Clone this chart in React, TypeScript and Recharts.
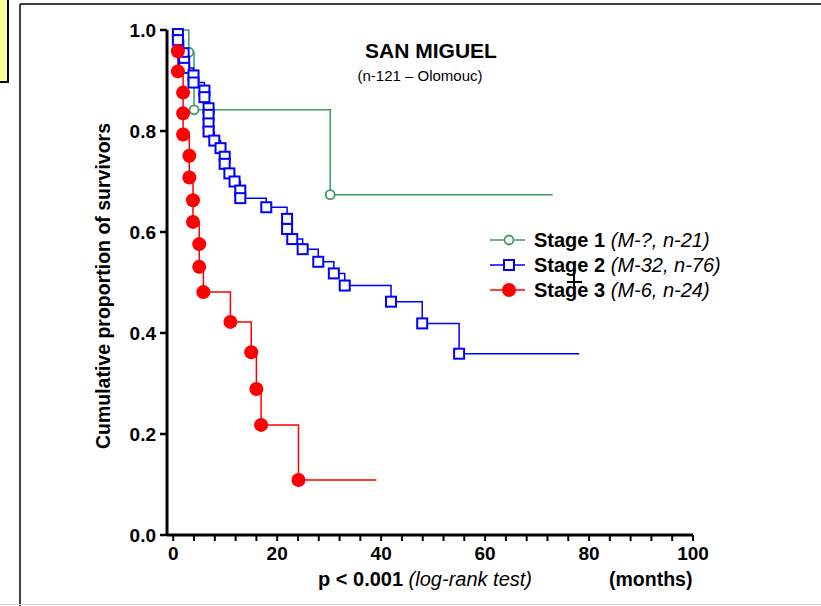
import React from "react";
import { LineChart, Line, XAxis, YAxis } from "recharts";

// Kaplan-Meier events (months, survival after the event)
const stage1Times = [3.0, 4.0, 30.2];
const stage1Surv = [0.956, 0.842, 0.674];
const stage1End = 73;

const stage2Times = [
  0.9, 0.9, 2.0, 2.1, 2.1, 3.9, 3.9, 6.0, 6.0, 6.8, 6.8, 6.8, 6.8, 7.9, 9.1, 9.9,
  9.9, 10.8, 11.8, 12.9, 12.9, 17.9, 21.9, 21.9, 22.9, 24.9, 27.9, 30.9, 33.0,
  41.9, 47.9, 55.0,
];
const stage2Surv = [
  0.992, 0.98, 0.954, 0.937, 0.925, 0.91, 0.896, 0.88, 0.867, 0.845, 0.832,
  0.815, 0.799, 0.781, 0.766, 0.749, 0.735, 0.716, 0.7, 0.682, 0.667, 0.649,
  0.626, 0.606, 0.586, 0.566, 0.541, 0.518, 0.494, 0.462, 0.419, 0.359,
];
const stage2End = 78.1;

const stage3Times = [
  0.9, 0.9, 1.9, 1.9, 1.9, 3.1, 3.1, 3.8, 3.8, 5.0, 5.0, 5.8, 11.0, 15.0, 16.0,
  16.9, 24.1,
];
const stage3Surv = [
  0.958, 0.918, 0.876, 0.835, 0.793, 0.751, 0.708, 0.663, 0.62, 0.576, 0.531,
  0.481, 0.422, 0.362, 0.289, 0.218, 0.109,
];
const stage3End = 39.1;

const xTicks = [
  0, 4, 8, 12, 16, 20, 24, 28, 32, 36, 40, 44, 48, 52, 56, 60, 64, 68, 72, 76,
  80, 84, 88, 92, 96, 100,
];
const yTicks = [0, 0.2, 0.4, 0.6, 0.8, 1.0];

const legendItems = [
  { name: "Stage 1", note: "(M-?, n-21)" },
  { name: "Stage 2", note: "(M-32, n-76)" },
  { name: "Stage 3", note: "(M-6, n-24)" },
];

const GREEN = "#3a9a62";
const BLUE = "#0000ff";
const RED = "#ff0000";
const FONT = "'Liberation Sans', Arial, sans-serif";

// start at 1.0, one point per event, then a last point where follow-up ends
function buildSeries(times: number[], surv: number[], end: number) {
  const pts = [{ t: 0, s: 1, mark: false }];
  times.forEach((t, i) => pts.push({ t, s: surv[i], mark: true }));
  pts.push({ t: end, s: surv[surv.length - 1], mark: false });
  return pts;
}

const stage1 = buildSeries(stage1Times, stage1Surv, stage1End);
const stage2 = buildSeries(stage2Times, stage2Surv, stage2End);
const stage3 = buildSeries(stage3Times, stage3Surv, stage3End);

const circleDot = (props: any) => {
  const { cx, cy, payload, index } = props;
  if (!payload?.mark) return <g key={`g-${index}`} />;
  return (
    <circle key={`c-${index}`} cx={cx} cy={cy} r={4.5} fill="#fff" stroke={GREEN} strokeWidth={1.8} />
  );
};

const squareDot = (props: any) => {
  const { cx, cy, payload, index } = props;
  if (!payload?.mark) return <g key={`g-${index}`} />;
  return (
    <rect key={`r-${index}`} x={cx - 5} y={cy - 5} width={10} height={10} fill="#fff" stroke={BLUE} strokeWidth={2} />
  );
};

const filledDot = (props: any) => {
  const { cx, cy, payload, index } = props;
  if (!payload?.mark) return <g key={`g-${index}`} />;
  return <circle key={`f-${index}`} cx={cx} cy={cy} r={7} fill={RED} stroke="none" />;
};

function LegendIcon({ i, y }: { i: number; y: number }) {
  const color = [GREEN, BLUE, RED][i];
  return (
    <g>
      <line x1={490} y1={y} x2={525} y2={y} stroke={color} strokeWidth={1.5} />
      {i === 0 && <circle cx={509} cy={y} r={4.5} fill="#fff" stroke={color} strokeWidth={1.8} />}
      {i === 1 && <rect x={504} y={y - 5} width={10} height={10} fill="#fff" stroke={color} strokeWidth={2} />}
      {i === 2 && <circle cx={509} cy={y} r={7} fill={color} />}
    </g>
  );
}

export default function App() {
  const tickStyle = { fontFamily: FONT, fontWeight: 700, fontSize: 19, fill: "#000" };
  return (
    <div style={{ position: "absolute", left: 0, top: 0, width: 821, height: 606, background: "#fff" }}>
      <LineChart width={821} height={606} margin={{ top: 30, right: 128, bottom: 41, left: 107 }}>
        <XAxis
          type="number"
          dataKey="t"
          domain={[-1.2, 100]}
          allowDataOverflow
          ticks={xTicks}
          interval={0}
          tickFormatter={(v: number) => (v % 20 === 0 ? String(v) : "")}
          axisLine={{ stroke: "#000", strokeWidth: 3 }}
          tickLine={{ stroke: "#000", strokeWidth: 2 }}
          tickSize={6}
          tickMargin={6}
          tick={tickStyle}
          height={30}
        />
        <YAxis
          type="number"
          domain={[0, 1]}
          ticks={yTicks}
          interval={0}
          tickFormatter={(v: number) => v.toFixed(1)}
          axisLine={{ stroke: "#000", strokeWidth: 3 }}
          tickLine={{ stroke: "#000", strokeWidth: 2.5 }}
          tickSize={7}
          tickMargin={4}
          tick={tickStyle}
          width={60}
        />
        <Line data={stage1} dataKey="s" type="stepAfter" stroke={GREEN} strokeWidth={1.5} dot={circleDot} isAnimationActive={false} />
        <Line data={stage2} dataKey="s" type="stepAfter" stroke={BLUE} strokeWidth={1.5} dot={squareDot} isAnimationActive={false} />
        <Line data={stage3} dataKey="s" type="stepAfter" stroke={RED} strokeWidth={1.5} dot={filledDot} isAnimationActive={false} />
      </LineChart>

      <svg width={821} height={606} style={{ position: "absolute", left: 0, top: 0, pointerEvents: "none" }}>
        {/* page frame */}
        <line x1={20} y1={4} x2={821} y2={4} stroke="#000" strokeWidth={1.5} />
        <line x1={20} y1={4} x2={20} y2={606} stroke="#000" strokeWidth={1.5} />
        <line x1={0} y1={604.5} x2={821} y2={604.5} stroke="#d8d8d8" strokeWidth={1} />
        <rect x={-2} y={-2} width={10} height={84} fill="#ffff99" stroke="#000" strokeWidth={2} />

        <text x={431} y={58} textAnchor="middle" fontFamily={FONT} fontWeight={700} fontSize={21}>
          SAN MIGUEL
        </text>
        <text x={420} y={81} textAnchor="middle" fontFamily={FONT} fontSize={15}>
          (n-121 – Olomouc)
        </text>

        <text
          x={103}
          y={286}
          transform="rotate(-90 103 286)"
          textAnchor="middle"
          dominantBaseline="central"
          fontFamily={FONT}
          fontWeight={700}
          fontSize={19.5}
        >
          Cumulative proportion of survivors
        </text>

        <text x={318} y={586} fontFamily={FONT} fontSize={20}>
          <tspan fontWeight={700}>p &lt; 0.001</tspan>
          <tspan fontStyle="italic"> (log-rank test)</tspan>
        </text>
        <text x={609} y={586} fontFamily={FONT} fontWeight={700} fontSize={19.5}>
          (months)
        </text>

        {legendItems.map((item, i) => {
          const y = 240 + i * 25;
          return (
            <g key={item.name}>
              <LegendIcon i={i} y={y} />
              <text x={534} y={y + 7} fontFamily={FONT} fontSize={20}>
                <tspan fontWeight={700}>{item.name}</tspan>
                <tspan fontStyle="italic"> {item.note}</tspan>
              </text>
            </g>
          );
        })}

        {/* stray cursor mark over the legend */}
        <line x1={574} y1={265} x2={574} y2={292} stroke="#000" strokeWidth={2} />
        <line x1={567} y1={282} x2={582} y2={282} stroke="#000" strokeWidth={2} />
      </svg>
    </div>
  );
}
